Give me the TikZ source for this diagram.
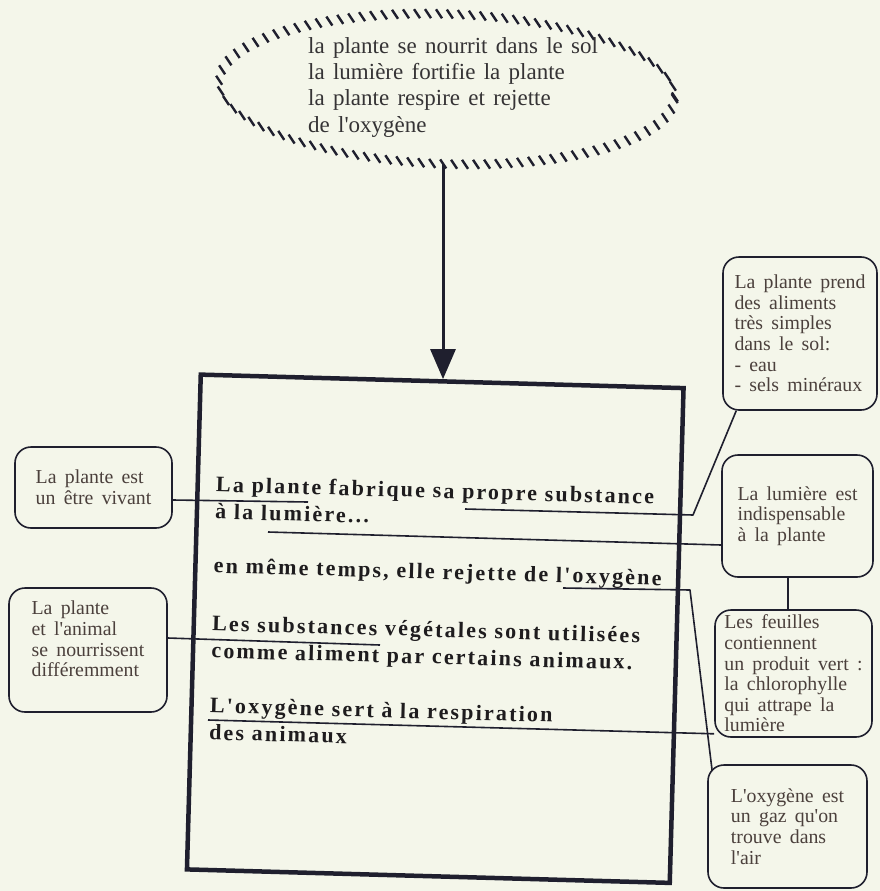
\documentclass[tikz,border=0pt]{standalone}
\usepackage{fontspec}
\setmainfont{Liberation Serif}
\newfontfamily\boxfam[LetterSpace=10]{Liberation Serif}
\newfontfamily\notefam{Liberation Serif}
\usetikzlibrary{arrows.meta,calc,decorations.markings}
\definecolor{inkc}{HTML}{1E1C1E}
\definecolor{notec}{HTML}{4B403C}
\definecolor{linec}{HTML}{1F1F2E}
\definecolor{paperc}{HTML}{F4F6EA}
\newcommand\notefont{\notefam\fontsize{19.8}{20.6}\selectfont\spaceskip=0.42em\relax}
\newcommand\linefont{\boxfam\bfseries\fontsize{22}{27}\selectfont}
\newcommand\ideafont{\notefam\fontsize{23}{26.3}\selectfont\spaceskip=0.36em\relax}
\tikzset{
  bigbox/.style={draw=linec, line width=4.5pt, minimum width=483pt, minimum height=495pt, inner sep=0pt},
  notebox/.style={draw=linec, line width=1.6pt, rounded corners=16pt, font=\notefont, text=notec, align=left, inner sep=4pt},
  mainline/.style={anchor=base west, align=left, inner sep=0pt, font=\linefont, text=inkc},
  ideas/.style={anchor=base west, align=left, inner sep=0pt, font=\ideafont, text=inkc!90},
  link/.style={draw=linec, line width=1.6pt, line join=round},
  feed/.style={draw=linec, line width=3pt, -{Triangle[length=30pt,width=25pt]}},
  hatchring/.style={decorate, decoration={markings, mark=between positions 0 and 1 step 11pt with {\pgftransformresetnontranslations \draw[draw=linec, line width=2.4pt] (-3pt,4.5pt) -- (3pt,-4.5pt);}}},
}
\begin{document}
\begin{tikzpicture}[x=1pt,y=-1pt]
\fill[paperc] (0,0) rectangle (880,891);
\useasboundingbox (0,0) rectangle (880,891);
\path[hatchring, rotate around={-2:(447,88)}] (447,89) ellipse [x radius=228pt, y radius=75pt];
\node[ideas] (idees) at (308,132) {la plante se nourrit dans le sol\\la lumière fortifie la plante\\la plante respire et rejette\\de l'oxygène};
\node[bigbox, rotate=-1.6] (main) at (435.25,628.75) {};
\coordinate (drop) at (443,164);
\draw[feed] (drop) -- (drop |- main.north);
\begin{scope}[rotate around={-1.6:(435.25,628.75)}, transform shape]
\node[mainline] (fabrique) at (212,525) {La plante fabrique sa propre substance\\à la lumière...};
\node[mainline] (rejette) at (212,579) {en même temps, elle rejette de l'oxygène};
\node[mainline] (utilisees) at (212,664) {Les substances végétales sont utilisées\\comme aliment par certains animaux.};
\node[mainline] (respire) at (212,746) {L'oxygène sert à la respiration\\des animaux};
\end{scope}
\node[notebox, minimum width=157pt, minimum height=81pt] (vivant) at (93.5,487.5) {La plante est\\un être vivant};
\node[notebox, minimum width=158pt, minimum height=124pt, text depth=22pt] (differ) at (88,650) {La plante\\et l'animal\\se nourrissent\\différemment};
\node[notebox, minimum width=154pt, minimum height=153pt] (prend) at (800,333.5) {La plante prend\\des aliments\\très simples\\dans le sol:\\- eau\\- sels minéraux};
\node[notebox, minimum width=151pt, minimum height=122pt] (lumiere) at (797.5,516) {La lumière est\\indispensable\\à la plante};
\node[notebox, minimum width=157pt, minimum height=127pt, inner sep=2pt] (feuilles) at (793.5,673.5) {Les feuilles\\contiennent\\un produit vert :\\la chlorophylle\\qui attrape la\\lumière};
\node[notebox, minimum width=159pt, minimum height=123pt] (oxygene) at (787.5,826.5) {L'oxygène est\\un gaz qu'on\\trouve dans\\l'air};
\coordinate (u1) at (308,502);
\coordinate (u2) at (465,509);
\coordinate (u3) at (268,532);
\coordinate (u4) at (563,588);
\coordinate (u5) at (380,645);
\coordinate (u6) at (208,720);
\coordinate (t7) at ($(lumiere.south)+(-9.5,0)$);
\draw[link] ($(vivant.east)+(0,12.5)$) -- (u1);
\draw[link] (u2) -- (693,515) -- ($(prend.south west)+(14,0)$);
\draw[link] (u3) -- ($(lumiere.west)+(0,29)$);
\draw[link] (u4) -- (690,590) -- ($(oxygene.north west)+(5,7)$);
\draw[link] ($(differ.east)+(0,-12)$) -- (u5);
\draw[link] (u6) -- ($(feuilles.south west)+(0,-4)$);
\draw[link] (t7) -- (t7 |- feuilles.north);
\end{tikzpicture}
\end{document}
